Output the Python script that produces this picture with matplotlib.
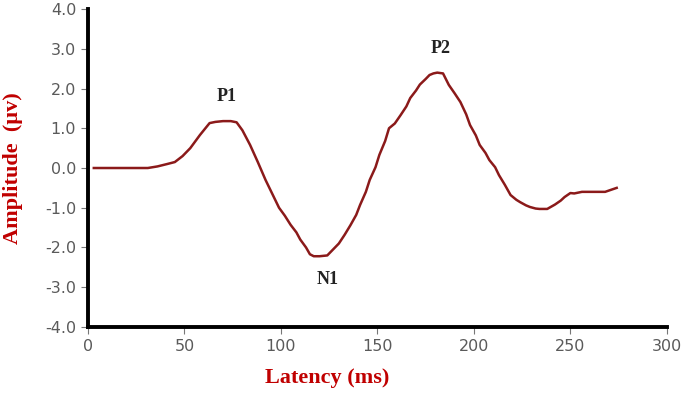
import numpy as np
import matplotlib.pyplot as plt

plt.rcParams["axes.unicode_minus"] = False

# latency (ms) and amplitude (uV)
latency = [3, 31, 36, 41, 45, 49, 53, 58, 63, 66, 70, 74, 77, 80, 84, 88, 92, 96, 99,
           102, 105, 108, 110, 113, 115, 117, 120, 124, 127, 130, 133, 136, 139, 141,
           144, 146, 149, 151, 154, 156, 159, 162, 165, 167, 170, 172, 175, 177, 179,
           181, 184, 187, 190, 193, 196, 198, 201, 203, 206, 208, 211, 213, 216, 219,
           222, 224, 227, 229, 232, 234, 238, 242, 245, 247, 250, 252, 256, 260, 264,
           268, 271, 274]
amplitude = [0.0, 0.0, 0.04, 0.1, 0.15, 0.3, 0.5, 0.83, 1.13, 1.16, 1.18, 1.18, 1.15,
             0.95, 0.58, 0.15, -0.3, -0.7, -1.0, -1.2, -1.43, -1.62, -1.8, -2.0, -2.17,
             -2.22, -2.22, -2.2, -2.05, -1.9, -1.68, -1.44, -1.18, -0.93, -0.6, -0.3,
             0.02, 0.33, 0.68, 1.0, 1.12, 1.33, 1.55, 1.76, 1.95, 2.1, 2.24, 2.34, 2.38,
             2.4, 2.38, 2.09, 1.88, 1.66, 1.35, 1.08, 0.82, 0.58, 0.38, 0.2, 0.02, -0.18,
             -0.42, -0.68, -0.8, -0.86, -0.94, -0.98, -1.02, -1.03, -1.03, -0.92, -0.82,
             -0.73, -0.63, -0.64, -0.6, -0.6, -0.6, -0.6, -0.55, -0.5]

peak_names = ["P1", "N1", "P2"]
peak_pos = [(72, 1.8), (124, -2.8), (183, 3.0)]

fig = plt.figure(figsize=(6.85, 3.93), dpi=100)
ax = fig.add_axes([0.1285, 0.168, 0.845, 0.809])

ax.plot(latency, amplitude, color="#8b1a1a", lw=1.8)

for name, (px, py) in zip(peak_names, peak_pos):
    ax.text(px, py, name, ha="center", va="center", fontsize=13, fontweight="bold",
            family="Liberation Serif", color="#222222")

ax.set_xlim(0, 300)
ax.set_ylim(-4, 4)
ax.set_xticks(np.arange(0, 301, 50))
ax.set_yticks(np.arange(-4, 4.01, 1))
ax.set_yticklabels(["%.1f" % v for v in np.arange(-4, 4.01, 1)])

for s in ["top", "right"]:
    ax.spines[s].set_visible(False)
for s in ["left", "bottom"]:
    ax.spines[s].set_linewidth(2.8)
    ax.spines[s].set_color("black")

ax.tick_params(direction="out", length=5, width=0.8, color="#777777",
               labelcolor="#5a5a5a", labelsize=11.5)

ax.set_xlabel("Latency (ms)", family="Liberation Serif", fontweight="bold",
              fontsize=16, color="#c00000", va="top")
ax.xaxis.set_label_coords(0.413, -0.13)
ax.set_ylabel("Amplitude  (\u00b5v)", family="Liberation Serif", fontweight="bold",
              fontsize=16, color="#c00000")
ax.yaxis.set_label_coords(-0.112, 0.5)

fig.savefig("out.png", dpi=100)
